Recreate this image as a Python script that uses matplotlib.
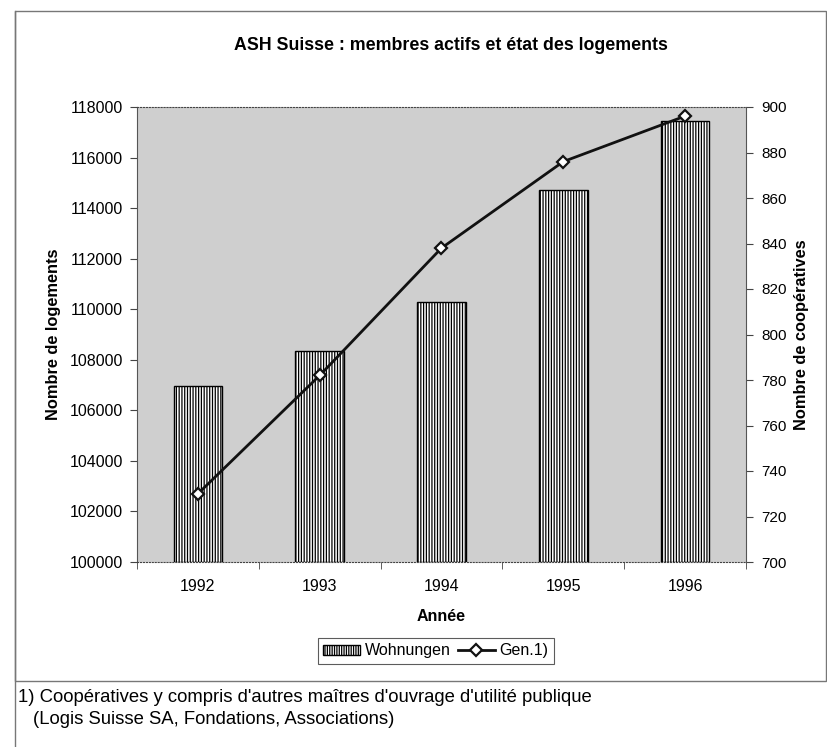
import matplotlib
matplotlib.use("Agg")
import matplotlib.pyplot as plt
from matplotlib.lines import Line2D
from matplotlib.patches import Rectangle
import numpy as np

plt.rcParams['font.family'] = ['Liberation Sans', 'DejaVu Sans']
plt.rcParams['hatch.linewidth'] = 0.9

years = ["1992", "1993", "1994", "1995", "1996"]
wohnungen = [106950, 108340, 110270, 114700, 117450]
genossenschaften = [730, 782, 838, 876, 896]

fig = plt.figure(figsize=(8.28, 7.47), dpi=100)
ax = fig.add_axes([137 / 828, 1 - 562 / 747, 609 / 828, 455 / 747])
ax.set_facecolor('#cfcfcf')

x = np.arange(len(years))
ax.bar(x, [w - 100000 for w in wohnungen], bottom=100000, width=0.40,
       color='white', edgecolor='black', hatch='||||||', linewidth=1.0, zorder=2)
ax.set_xlim(-0.5, len(years) - 0.5)
ax.set_ylim(100000, 118000)
ax.set_yticks(np.arange(100000, 118001, 2000))
ax.set_yticklabels([str(v) for v in range(100000, 118001, 2000)], fontsize=11.5)
ax.set_xticks(x)
ax.set_xticklabels(years, fontsize=11.5)
ax.set_xticks(np.arange(-0.5, len(years), 1.0), minor=True)
ax.tick_params(axis='x', which='major', length=0, pad=12)
ax.tick_params(axis='x', which='minor', length=5, direction='out', color='#444')
ax.tick_params(axis='y', length=5, direction='out', color='#444', pad=5)

for s in ['top', 'bottom']:
    ax.spines[s].set_linestyle(':')
    ax.spines[s].set_color('#444')
ax.spines['right'].set_visible(False)
ax.spines['left'].set_color('#555')

ax.set_ylabel('Nombre de logements', fontsize=11.8, fontweight='bold', labelpad=6)
ax.set_xlabel('Année', fontsize=11.5, fontweight='bold', labelpad=11)

ax2 = ax.twinx()
ax2.plot(x, genossenschaften, color='#111', linewidth=2.0, marker='D', markersize=6,
         markerfacecolor='white', markeredgecolor='#111', markeredgewidth=1.6, zorder=3)
ax2.set_ylim(700, 900)
ax2.set_yticks(np.arange(700, 901, 20))
ax2.set_yticklabels([str(v) for v in range(700, 901, 20)], fontsize=11)
ax2.tick_params(axis='y', length=5, direction='out', color='#444', pad=6)
ax2.spines['right'].set_color('#555')
ax2.spines['top'].set_visible(False)
ax2.spines['left'].set_visible(False)
ax2.spines['bottom'].set_visible(False)
ax2.set_ylabel('Nombre de coopératives', fontsize=11.8, fontweight='bold', labelpad=5)

fig.text(451 / 828, 1 - 46 / 747, 'ASH Suisse : membres actifs et état des logements',
         ha='center', va='center', fontsize=12.8, fontweight='bold')

handles = [Rectangle((0, 0), 1, 1, facecolor='white', edgecolor='black', hatch='|||||||', linewidth=1.0),
           Line2D([0], [0], color='#111', linewidth=2.0, marker='D', markersize=6,
                  markerfacecolor='white', markeredgecolor='#111', markeredgewidth=1.6)]
leg = fig.legend(handles, ['Wohnungen', 'Gen.1)'], loc='center', bbox_to_anchor=(436 / 828, 1 - 651 / 747),
                 ncol=2, frameon=True, fancybox=False, edgecolor='#333', fontsize=11.5,
                 handlelength=2.3, handleheight=0.6, handletextpad=0.3, columnspacing=0.45,
                 borderpad=0.35, labelspacing=0.2)
leg.get_frame().set_linewidth(0.8)

# outer chart frame
fig.add_artist(Rectangle((15 / 828, 1 - 681 / 747), (826 - 15) / 828, (681 - 11) / 747,
                         transform=fig.transFigure, fill=False, edgecolor='#777', linewidth=1.0))
fig.add_artist(Line2D([15 / 828, 15 / 828], [0, 1 - 11 / 747], transform=fig.transFigure,
                      color='#777', linewidth=1.0))

fig.text(18 / 828, 1 - 697 / 747, "1) Coopératives y compris d'autres maîtres d'ouvrage d'utilité publique",
         ha='left', va='center', fontsize=13.3)
fig.text(33 / 828, 1 - 720 / 747, "(Logis Suisse SA, Fondations, Associations)",
         ha='left', va='center', fontsize=13.3)

fig.savefig('out.png', dpi=100)
